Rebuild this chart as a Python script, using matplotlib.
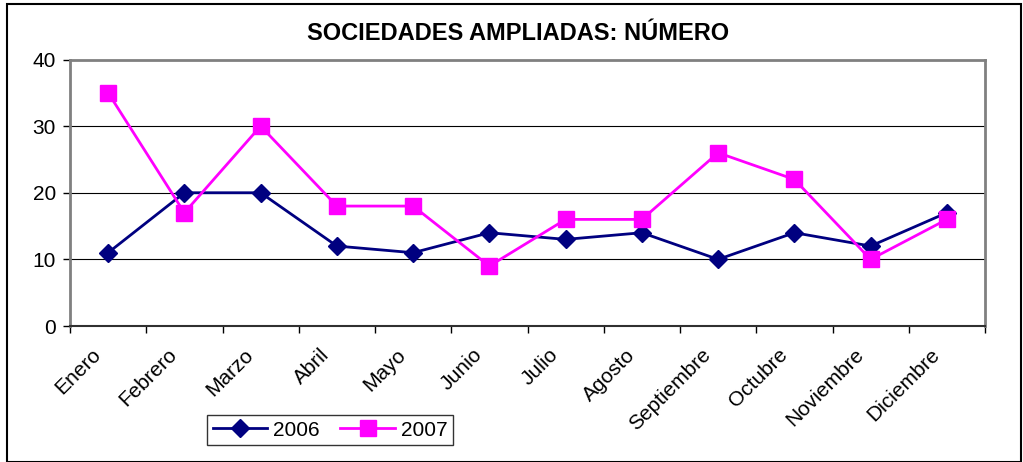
import numpy as np
import matplotlib.pyplot as plt
from matplotlib.patches import Rectangle
from matplotlib.transforms import ScaledTranslation

meses = ["Enero", "Febrero", "Marzo", "Abril", "Mayo", "Junio", "Julio",
         "Agosto", "Septiembre", "Octubre", "Noviembre", "Diciembre"]
v2006 = [11, 20, 20, 12, 11, 14, 13, 14, 10, 14, 12, 17]
v2007 = [35, 17, 30, 18, 18, 9, 16, 16, 26, 22, 10, 16]

plt.rcParams["font.family"] = ["Liberation Sans", "DejaVu Sans"]

W, H = 1023, 462
fig = plt.figure(figsize=(W / 100, H / 100), dpi=100)
ax = fig.add_axes([70 / W, 1 - 326 / H, (985 - 70) / W, (326 - 59.5) / H])

x = np.arange(len(meses))
ax.plot(x, v2006, color="#000080", lw=2, marker="D", ms=9, label="2006", zorder=3)
ax.plot(x, v2007, color="#FF00FF", lw=2, marker="s", ms=11, label="2007", zorder=4)

ax.set_xlim(-0.5, len(meses) - 0.5)
ax.set_ylim(0, 40)
ax.set_yticks([0, 10, 20, 30, 40])
for y in [10, 20, 30]:
    ax.axhline(y, color="black", lw=0.8, zorder=1)

ax.set_xticks(x)
ax.set_xticklabels(meses, rotation=45, ha="right", va="center",
                   rotation_mode="anchor", fontsize=15)
ax.tick_params(axis="x", length=0, pad=0)
off = ScaledTranslation(-10 / 100, -26 / 100, fig.dpi_scale_trans)
for lab in ax.get_xticklabels():
    lab.set_transform(lab.get_transform() + off)
ax.set_xticks(np.arange(-0.5, len(meses)), minor=True)
ax.tick_params(axis="x", which="minor", length=5, width=1, color="black")
ax.tick_params(axis="y", labelsize=15, length=5, width=1, color="black", pad=5)

for s in ["left", "top", "right"]:
    ax.spines[s].set_color("#808080")
    ax.spines[s].set_linewidth(2)
ax.spines["bottom"].set_color("#303030")
ax.spines["bottom"].set_linewidth(1.5)

fig.text(518 / W, 1 - 34 / H, "SOCIEDADES AMPLIADAS: NÚMERO", ha="center", va="center",
         fontsize=17, fontweight="bold")

leg = fig.legend(loc="center", bbox_to_anchor=(330 / W, 1 - 430 / H), ncol=2, fontsize=15,
                 frameon=True, fancybox=False, edgecolor="black", handlelength=2.6,
                 columnspacing=1.0, handletextpad=0.3, borderpad=0.25)
leg.get_frame().set_linewidth(1)

fig.patches.append(Rectangle((7 / W, 0), 1 - 9 / W, 1 - 4 / H, transform=fig.transFigure,
                             fill=False, edgecolor="black", lw=1.5))

fig.savefig("out.png", dpi=100)
